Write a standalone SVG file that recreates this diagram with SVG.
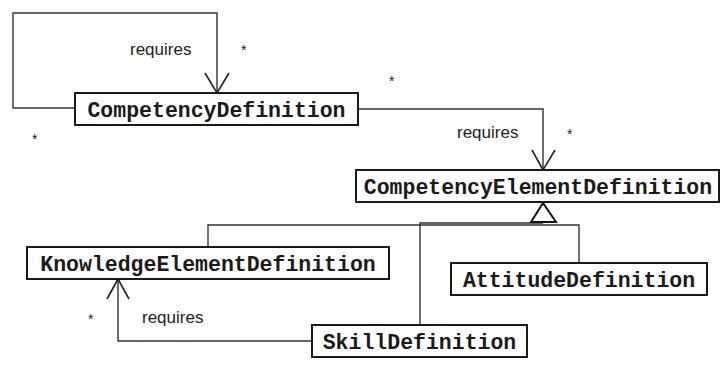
<svg xmlns="http://www.w3.org/2000/svg" width="721" height="365" viewBox="0 0 721 365">
<style>
.box{fill:#fff;stroke:#1a1a1a;stroke-width:2}
.cls{font-family:"Liberation Mono","Courier New",monospace;font-weight:bold;font-size:21.5px;fill:#1a1a1a;text-anchor:middle}
.lbl{font-family:"Liberation Sans",Arial,sans-serif;font-size:17px;fill:#222}
.star{font-family:"Liberation Sans",Arial,sans-serif;font-size:14px;fill:#222}
.ln{fill:none;stroke:#333;stroke-width:1.4}
.arr{fill:none;stroke:#222;stroke-width:1.6}
.tri{fill:#fff;stroke:#111;stroke-width:2}
</style>
<rect width="721" height="365" fill="#fff"/>
<g id="connectors">
  <path class="ln" d="M75,108 H13 V13 H217 V93"/>
  <path class="arr" d="M205,73 L217,93 L229,73"/>
  <path class="ln" d="M358,109 H543 V170"/>
  <path class="arr" d="M532,150 L543,170 L555,150"/>
  <path class="ln" d="M312,341 H118 V279"/>
  <path class="arr" d="M107,299 L118,279 L129,299"/>
  <path class="ln" d="M208,247 V225 H543"/>
  <path class="ln" d="M420,325 V223 H543"/>
  <path class="ln" d="M579,263 V225 H543"/>
  <path class="tri" d="M543,203 L531,222 L556,222 Z"/>
  <text class="lbl" x="130" y="55">requires</text>
  <text class="star" x="241" y="55">*</text>
  <text class="star" x="32" y="144">*</text>
  <text class="star" x="389" y="86">*</text>
  <text class="lbl" x="457" y="138">requires</text>
  <text class="star" x="567" y="139">*</text>
  <text class="lbl" x="142" y="323">requires</text>
  <text class="star" x="88" y="324">*</text>
</g>
<g id="CompetencyDefinition">
  <rect class="box" x="75" y="93" width="283" height="32"/>
  <text class="cls" x="216.5" y="117">CompetencyDefinition</text>
</g>
<g id="CompetencyElementDefinition">
  <rect class="box" x="356" y="170" width="363" height="32"/>
  <text class="cls" x="538" y="194">CompetencyElementDefinition</text>
</g>
<g id="KnowledgeElementDefinition">
  <rect class="box" x="27" y="247" width="362" height="32"/>
  <text class="cls" x="208" y="271">KnowledgeElementDefinition</text>
</g>
<g id="AttitudeDefinition">
  <rect class="box" x="451" y="263" width="256" height="32"/>
  <text class="cls" x="579" y="287">AttitudeDefinition</text>
</g>
<g id="SkillDefinition">
  <rect class="box" x="312" y="325" width="215" height="32"/>
  <text class="cls" x="419.5" y="349">SkillDefinition</text>
</g>
</svg>
